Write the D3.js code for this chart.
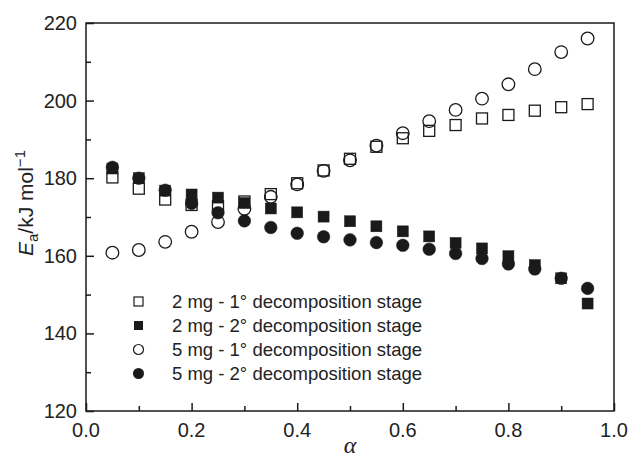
<!DOCTYPE html>
<html>
<head>
<meta charset="utf-8">
<script src="https://cdn.jsdelivr.net/npm/d3@7"></script>
<style>
  body { margin: 0; background: #fff; }
  svg { display: block; }
  text { font-family: "Liberation Sans", Arial, Helvetica, sans-serif; fill: #222; }
</style>
</head>
<body>
<svg id="chart" width="630" height="467"></svg>
<script>
// ---- data ----
const alpha = [0.05,0.10,0.15,0.20,0.25,0.30,0.35,0.40,0.45,0.50,0.55,0.60,0.65,0.70,0.75,0.80,0.85,0.90,0.95];
const mg2_stage1 = [180.2,177.3,174.5,173.1,172.8,174.0,175.9,178.7,182.0,185.0,188.1,190.3,192.2,193.7,195.4,196.3,197.4,198.3,199.1];
const mg2_stage2 = [182.5,180.0,176.8,175.8,175.0,173.6,172.2,171.2,170.1,168.9,167.6,166.3,165.0,163.3,161.9,159.9,157.6,154.2,147.7];
const mg5_stage1 = [160.8,161.5,163.6,166.2,168.7,172.1,175.2,178.4,181.9,184.6,188.4,191.6,194.7,197.6,200.5,204.2,208.1,212.5,216.0];
const mg5_stage2 = [182.8,180.0,176.9,173.5,171.1,169.0,167.3,165.8,164.9,164.1,163.4,162.7,161.7,160.6,159.3,157.9,156.6,154.2,151.6];
const xTicks = [0.0,0.2,0.4,0.6,0.8,1.0];
const yTicks = [120,140,160,180,200,220];
const legendLabels = ["2 mg - 1\u00b0 decomposition stage","2 mg - 2\u00b0 decomposition stage","5 mg - 1\u00b0 decomposition stage","5 mg - 2\u00b0 decomposition stage"];

// ---- layout ----
const svg = d3.select("#chart");
const L = 86, R = 614, T = 23, B = 411;
const x = d3.scaleLinear().domain([0,1]).range([L,R]);
const y = d3.scaleLinear().domain([120,220]).range([B,T]);
const ink = "#1a1a1a";

// frame
svg.append("rect").attr("x",L).attr("y",T).attr("width",R-L).attr("height",B-T)
  .attr("fill","none").attr("stroke",ink).attr("stroke-width",1.5);

// x axis
const xAxis = d3.axisBottom(x).tickValues(d3.range(0,1.0001,0.1)).tickSize(-8).tickFormat(d => "");
const gx = svg.append("g").attr("transform",`translate(0,${B})`).call(xAxis);
gx.select(".domain").remove();
gx.selectAll(".tick line").attr("stroke",ink).attr("stroke-width",1.5)
  .attr("y2", (d) => (Math.round(d*10)%2===0) ? -8 : -5);
svg.append("g").selectAll("text").data(xTicks).join("text")
  .attr("x",d=>x(d)).attr("y",437).attr("text-anchor","middle")
  .attr("font-size",20).text(d=>d.toFixed(1));

// y axis
const yAxis = d3.axisLeft(y).tickValues(d3.range(120,220.001,10)).tickSize(-8).tickFormat(d => "");
const gy = svg.append("g").attr("transform",`translate(${L},0)`).call(yAxis);
gy.select(".domain").remove();
gy.selectAll(".tick line").attr("stroke",ink).attr("stroke-width",1.5)
  .attr("x2", (d) => (Math.round(d)%20===0) ? 8 : 5);
svg.append("g").selectAll("text").data(yTicks).join("text")
  .attr("x",77).attr("y",d=>y(d)+7).attr("text-anchor","end")
  .attr("font-size",20).text(d=>d);

// axis titles
svg.append("text").attr("x",(L+R)/2).attr("y",453).attr("text-anchor","middle")
  .attr("font-size",24).attr("font-style","italic")
  .style("font-family","'Liberation Serif', 'DejaVu Serif', serif").text("\u03b1");

const yt = svg.append("text").attr("transform","translate(33,203) rotate(-90)")
  .attr("text-anchor","middle").attr("font-size",21);
yt.append("tspan").attr("font-style","italic").text("E");
yt.append("tspan").attr("font-size",15).attr("dy",5).text("a");
yt.append("tspan").attr("dy",-5).text("/kJ mol");
yt.append("tspan").attr("font-size",15).attr("dy",-8).text("\u22121");

// ---- markers ----
const S = 11, RAD = 6.3;
function squares(vals, filled) {
  svg.append("g").selectAll("rect").data(vals).join("rect")
    .attr("x",(d,i)=>x(alpha[i])-S/2).attr("y",d=>y(d)-S/2)
    .attr("width",S).attr("height",S)
    .attr("fill",filled?ink:"none").attr("stroke",ink).attr("stroke-width",filled?0.5:1.3);
}
function circles(vals, filled) {
  svg.append("g").selectAll("circle").data(vals).join("circle")
    .attr("cx",(d,i)=>x(alpha[i])).attr("cy",d=>y(d)).attr("r",RAD)
    .attr("fill",filled?ink:"none").attr("stroke",ink).attr("stroke-width",filled?0.5:1.3);
}
squares(mg2_stage1,false);
squares(mg2_stage2,true);
circles(mg5_stage1,false);
circles(mg5_stage2,true);

// ---- legend ----
const legY = [301.5,325.5,349.5,373.5];
const lg = svg.append("g");
const LS = 9, LR = 5;
lg.append("rect").attr("x",138.5-LS/2).attr("y",legY[0]-LS/2).attr("width",LS).attr("height",LS)
  .attr("fill","none").attr("stroke",ink).attr("stroke-width",1.2);
lg.append("rect").attr("x",138.5-LS/2).attr("y",legY[1]-LS/2).attr("width",LS).attr("height",LS)
  .attr("fill",ink);
lg.append("circle").attr("cx",138.5).attr("cy",legY[2]).attr("r",LR)
  .attr("fill","none").attr("stroke",ink).attr("stroke-width",1.2);
lg.append("circle").attr("cx",138.5).attr("cy",legY[3]).attr("r",LR+0.5)
  .attr("fill",ink);
lg.selectAll("text").data(legendLabels).join("text")
  .attr("x",172).attr("y",(d,i)=>legY[i]+6).attr("font-size",18.5).text(d=>d);
</script>
</body>
</html>
